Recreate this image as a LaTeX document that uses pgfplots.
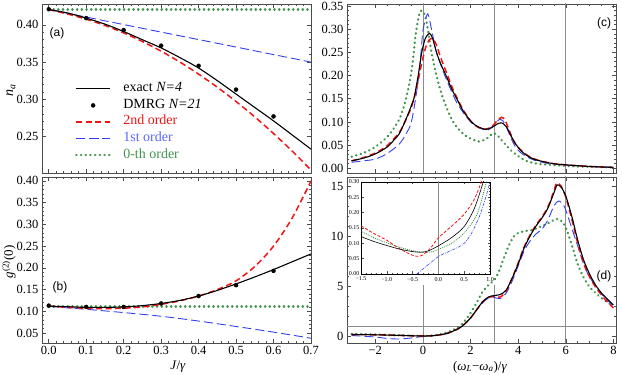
\documentclass[border=0pt]{standalone}
\usepackage{pgfplots}
\pgfplotsset{compat=1.18}
\usepackage{fontspec}
\setmainfont{Liberation Serif}
\newfontfamily\lsans{Liberation Sans}
\definecolor{cRed}{rgb}{0.95,0.08,0.08}
\definecolor{cBlue}{rgb}{0.2,0.25,0.95}
\definecolor{cBlueTxt}{rgb}{0.35,0.4,1}
\definecolor{cGreen}{rgb}{0.25,0.58,0.3}
\definecolor{cFrame}{gray}{0.3}
\definecolor{cGrid}{gray}{0.55}
\pgfplotsset{
  mystyle/.style={scale only axis, enlargelimits=false, anchor=south west,
    axis line style={cFrame, line width=0.8pt},
    tick style={cFrame, line width=0.5pt}, tick align=inside,
    major tick length=4pt, minor tick length=2pt,
    xtick pos=both, ytick pos=both,
    tick label style={font=\fontsize{12.5}{13}\selectfont}, clip=true},
  exact/.style={black, line width=1.1pt, smooth},
  second/.style={cRed, line width=1.5pt, dash pattern=on 6pt off 3.5pt, smooth},
  first/.style={cBlue, line width=0.9pt, dash pattern=on 9pt off 4pt, smooth},
  zeroth/.style={cGreen, line width=2.3pt, dash pattern=on 0.4pt off 4.3pt, line cap=round, smooth},
  gridl/.style={cGrid, line width=0.6pt, forget plot},
  dmrg/.style={only marks, mark=*, mark size=2pt, black, mark options={solid}},
}
\begin{document}
\begin{tikzpicture}
\useasboundingbox (0pt,0pt) rectangle (622pt,375pt);

% ---------------- (a)
\begin{axis}[mystyle, at={(42pt,202pt)}, width=269pt, height=169pt,
  xmin=-0.018, xmax=0.7, ymin=0.201, ymax=0.428,
  xtick={0,0.1,0.2,0.3,0.4,0.5,0.6,0.7}, xticklabels={},
  ytick={0.25,0.30,0.35,0.40}, yticklabels={0.25,0.30,0.35,0.40},
  minor x tick num=4, minor y tick num=4,
  legend style={at={(0.122,0.535)}, anchor=north west, draw=none, fill=none,
    font=\fontsize{14}{14}\selectfont, row sep=4.6pt, inner sep=0pt,
    nodes={text height=9pt, text depth=3pt, inner sep=0pt, anchor=west},
    column sep=12pt},
  legend cell align=left,
  legend image code/.code={\draw[mark repeat=2,mark phase=2,#1] plot coordinates {(0pt,0pt) (17pt,0pt) (34pt,0pt)};},
]
\addlegendimage{exact}\addlegendentry{exact  \textit{N=4}}
\addlegendimage{dmrg}\addlegendentry{DMRG  \textit{N=21}}
\addlegendimage{second}\addlegendentry{\textcolor{cRed}{2nd order}}
\addlegendimage{first}\addlegendentry{\textcolor{cBlueTxt}{1st order}}
\addlegendimage{zeroth}\addlegendentry{\textcolor{cGreen}{0-th order}}
\addplot[zeroth, forget plot] coordinates {(0,0.4205) (0.7,0.4205)};
\addplot[first, forget plot] coordinates {(0,0.4205) (0.7,0.350)};
\addplot[second, forget plot] coordinates {
(0,0.4205) (0.05,0.4146) (0.1,0.4076) (0.15,0.3992) (0.2,0.3892) (0.25,0.3776)
(0.3,0.3646) (0.35,0.3500) (0.4,0.3338) (0.45,0.3162) (0.5,0.2970) (0.55,0.2763)
(0.6,0.2540) (0.65,0.2303) (0.7,0.2050)};
\addplot[exact, forget plot] coordinates {
(0,0.4205) (0.05,0.416) (0.1,0.409) (0.15,0.401) (0.2,0.391) (0.25,0.380)
(0.3,0.369) (0.35,0.356) (0.4,0.342) (0.45,0.325) (0.5,0.307) (0.55,0.289)
(0.6,0.271) (0.65,0.252) (0.7,0.233)};
\addplot[dmrg, forget plot] coordinates {
(0,0.421) (0.1,0.409) (0.2,0.393) (0.3,0.372) (0.4,0.345) (0.5,0.313) (0.6,0.277)};
\end{axis}

% ---------------- (b)
\begin{axis}[mystyle, at={(42pt,32pt)}, width=269pt, height=166pt,
  xmin=-0.018, xmax=0.7, ymin=0.027, ymax=0.409,
  xtick={0,0.1,0.2,0.3,0.4,0.5,0.6,0.7}, xticklabels={0.0,0.1,0.2,0.3,0.4,0.5,0.6,0.7},
  ytick={0.05,0.10,0.15,0.20,0.25,0.30,0.35,0.40},
  yticklabels={0.05,0.10,0.15,0.20,0.25,0.30,0.35,0.40},
  minor x tick num=4, minor y tick num=4,
]
\addplot[zeroth] coordinates {(0,0.111) (0.7,0.111)};
\addplot[first] coordinates {(0,0.111) (0.1,0.1045) (0.2,0.097) (0.3,0.0885) (0.4,0.0775) (0.5,0.065) (0.6,0.052) (0.7,0.038)};
\addplot[second] coordinates {
(0,0.112) (0.05,0.109) (0.1,0.107) (0.15,0.106) (0.2,0.107) (0.25,0.110)
(0.3,0.116) (0.35,0.124) (0.4,0.135) (0.45,0.150) (0.5,0.170) (0.55,0.203)
(0.6,0.250) (0.65,0.315) (0.7,0.400)};
\addplot[exact] coordinates {
(0,0.112) (0.05,0.1105) (0.1,0.109) (0.15,0.109) (0.2,0.110) (0.25,0.113)
(0.3,0.118) (0.35,0.125) (0.4,0.135) (0.45,0.148) (0.5,0.163) (0.55,0.179)
(0.6,0.196) (0.65,0.214) (0.7,0.232)};
\addplot[dmrg] coordinates {
(0,0.113) (0.1,0.110) (0.2,0.110) (0.3,0.118) (0.4,0.135) (0.5,0.160) (0.6,0.193)};
\end{axis}

% ---------------- (c)
\begin{axis}[mystyle, at={(347pt,202pt)}, width=269pt, height=169pt,
  xmin=-3.19, xmax=8.11, ymin=-0.0101, ymax=0.3543,
  xtick={-2,0,2,4,6,8}, xticklabels={},
  ytick={0,0.05,0.10,0.15,0.20,0.25,0.30,0.35},
  yticklabels={0.00,0.05,0.10,0.15,0.20,0.25,0.30,0.35},
  minor x tick num=3, minor y tick num=4,
]
\addplot[gridl] coordinates {(0,-0.1) (0,0.4)};
\addplot[gridl] coordinates {(3,-0.1) (3,0.4)};
\addplot[gridl] coordinates {(6,-0.1) (6,0.4)};
\addplot[zeroth] coordinates {
(-3,0.025) (-2.5,0.033) (-2,0.046) (-1.5,0.068) (-1.2,0.088) (-1,0.105) (-0.8,0.133)
(-0.6,0.175) (-0.45,0.220) (-0.3,0.290) (-0.15,0.333) (-0.05,0.340) (0.05,0.334) (0.15,0.316)
(0.36,0.250) (0.57,0.200) (0.85,0.150) (1.27,0.100) (1.7,0.074) (2.0,0.064)
(2.35,0.058) (2.65,0.063) (2.95,0.0755) (3.15,0.070) (3.4,0.055) (3.8,0.034)
(4.3,0.017) (4.8,0.010) (5.5,0.007) (6.5,0.004) (8,0.002)};
\addplot[first] coordinates {
(-3,0.013) (-2.5,0.016) (-2,0.020) (-1.5,0.032) (-1,0.052) (-0.7,0.075) (-0.5,0.097)
(-0.34,0.140) (-0.17,0.200) (-0.08,0.250) (0.01,0.300) (0.2,0.333) (0.36,0.300)
(0.57,0.250) (0.92,0.200) (1.34,0.150) (1.6,0.127) (2.0,0.100) (2.3,0.089)
(2.7,0.082) (3.0,0.095) (3.25,0.106) (3.45,0.095) (3.7,0.065) (3.9,0.045)
(4.2,0.030) (4.6,0.019) (5,0.013) (5.5,0.009) (6,0.007) (7,0.004) (8,0.002)};
\addplot[second] coordinates {
(-3,0.016) (-2.5,0.023) (-2,0.033) (-1.5,0.049) (-1,0.077) (-0.76,0.100) (-0.5,0.130)
(-0.3,0.165) (-0.1,0.215) (0.1,0.258) (0.25,0.276) (0.4,0.280) (0.55,0.268)
(0.75,0.238) (1.0,0.205) (1.2,0.178) (1.42,0.153) (1.7,0.125) (2.04,0.100)
(2.3,0.089) (2.6,0.084) (2.9,0.090) (3.1,0.102) (3.3,0.110) (3.45,0.104)
(3.6,0.085) (3.8,0.060) (4.0,0.045) (4.3,0.031) (4.6,0.022) (5,0.015) (5.5,0.010)
(6,0.0075) (7,0.004) (8,0.002)};
\addplot[exact] coordinates {
(-3,0.016) (-2.5,0.022) (-2,0.031) (-1.5,0.046) (-1.2,0.062) (-1,0.074) (-0.76,0.100)
(-0.5,0.133) (-0.38,0.150) (-0.2,0.200) (-0.05,0.250) (0.1,0.280) (0.27,0.291)
(0.4,0.281) (0.57,0.250) (0.75,0.225) (0.97,0.200) (1.2,0.172) (1.42,0.150)
(1.7,0.123) (2.04,0.100) (2.3,0.090) (2.65,0.084) (2.9,0.088) (3.1,0.095)
(3.3,0.098) (3.5,0.090) (3.7,0.070) (3.9,0.052) (4.2,0.034) (4.6,0.021) (5,0.015)
(5.5,0.010) (6,0.0075) (7,0.004) (8,0.002)};
\end{axis}

% ---------------- (d)
\begin{axis}[mystyle, at={(347pt,32pt)}, width=269pt, height=166pt,
  xmin=-3.19, xmax=8.11, ymin=-0.7, ymax=15.9,
  xtick={-2,0,2,4,6,8}, xticklabels={−2,0,2,4,6,8},
  ytick={0,5,10,15}, yticklabels={0,5,10,15},
  minor x tick num=3, minor y tick num=4,
]
\addplot[gridl] coordinates {(0,-1) (0,5.1)};
\addplot[gridl] coordinates {(3,-1) (3,5.1)};
\addplot[gridl] coordinates {(6,-1) (6,17)};
\addplot[gridl] coordinates {(-4,1) (9,1)};
\addplot[zeroth] coordinates {
(-3,0.2) (-2,0.15) (-1,0.08) (0,0.0) (0.5,0.08) (1,0.35) (1.5,0.9) (1.75,1.5)
(2,2.3) (2.25,3.3) (2.5,4.4) (2.8,5.2) (3,5.6) (3.2,6.5) (3.4,7.8) (3.6,9.0)
(3.8,9.9) (4,10.3) (4.3,10.5) (4.6,10.6) (4.9,10.9) (5.2,11.2) (5.5,11.6)
(5.69,11.7) (5.9,11.3) (6.04,10.6) (6.2,9.5) (6.32,8.6) (6.5,7.2) (6.74,5.9)
(7,4.9) (7.3,4.2) (7.6,3.6) (8,3.0)};
\addplot[first] coordinates {
(-3,0.05) (-2,-0.1) (-1.5,-0.25) (-1,-0.3) (-0.5,-0.2) (0,-0.05) (0.5,0.05)
(1,0.25) (1.5,0.75) (1.75,1.2) (2,1.8) (2.25,2.6) (2.5,3.3) (2.75,3.8) (3,3.85)
(3.25,3.75) (3.5,4.3) (3.75,5.5) (4,7.0) (4.25,8.5) (4.5,9.5) (4.75,10.2)
(5,10.7) (5.25,11.6) (5.5,13.0) (5.7,13.5) (5.9,13.1) (6,12.6) (6.25,10.8)
(6.5,9.0) (6.75,7.2) (7,5.9) (7.5,4.2) (8,3.0)};
\addplot[second] coordinates {
(-3,0.15) (-2,0.12) (-1,0.06) (0,0.0) (0.5,0.05) (1,0.25) (1.5,0.75) (1.75,1.2)
(2,1.8) (2.25,2.6) (2.5,3.4) (2.75,3.85) (3,3.95) (3.25,3.9) (3.5,4.5) (3.75,5.8)
(4,7.3) (4.25,8.9) (4.5,10.1) (4.75,11.1) (5,11.9) (5.25,12.9) (5.5,14.5)
(5.62,15.3) (5.8,15.0) (6,13.9) (6.25,11.7) (6.5,9.3) (6.75,7.3) (7,5.9)
(7.25,4.9) (7.5,4.1) (7.75,3.4) (8,2.8)};
\addplot[exact] coordinates {
(-3,0.15) (-2,0.12) (-1,0.06) (0,0.0) (0.5,0.05) (1,0.25) (1.5,0.75) (1.75,1.2)
(2,1.8) (2.25,2.6) (2.5,3.4) (2.75,3.9) (3,4.05) (3.25,4.15) (3.5,4.6) (3.75,5.8)
(4,7.2) (4.25,8.8) (4.5,10.0) (4.75,11.0) (5,11.8) (5.25,12.8) (5.5,14.3)
(5.64,15.1) (5.8,14.9) (6,14.0) (6.25,12.0) (6.5,9.6) (6.75,7.6) (7,6.2)
(7.25,5.1) (7.5,4.3) (7.75,3.7) (8,3.1)};
\end{axis}

% ---------------- inset
\begin{axis}[mystyle, at={(361pt,101pt)}, width=129pt, height=92pt,
  axis background/.style={fill=white},
  xmin=-1.5, xmax=1, ymin=0, ymax=0.3,
  xtick={-1.5,-1,-0.5,0,0.5,1}, xticklabels={−1.5,−1.0,−0.5,0.0,0.5,1.0},
  ytick={0,0.05,0.10,0.15,0.20,0.25,0.30},
  yticklabels={0.00,0.05,0.10,0.15,0.20,0.25,0.30},
  tick label style={font=\fontsize{6}{6.5}\selectfont},
  xticklabel style={yshift=0.5pt}, yticklabel style={xshift=1.8pt},
  major tick length=2.5pt, minor tick length=1.2pt,
  minor x tick num=4, minor y tick num=4,
  axis line style={black, line width=0.7pt},
]
\addplot[gridl] coordinates {(0,-1) (0,1)};
\addplot[cGreen, line width=1pt, dash pattern=on 0.3pt off 1.7pt, line cap=round, smooth] coordinates {
(-1.5,0.140) (-1.25,0.118) (-1,0.102) (-0.75,0.087) (-0.5,0.076) (-0.3,0.071)
(-0.1,0.073) (0,0.080) (0.25,0.100) (0.5,0.134) (0.75,0.195) (0.93,0.30) (0.97,0.33)};
\addplot[cBlue, line width=0.6pt, dash pattern=on 3pt off 1.2pt on 0.8pt off 1.2pt, smooth] coordinates {
(-0.42,0) (-0.2,0.03) (0,0.057) (0.2,0.073) (0.32,0.082) (0.5,0.100) (0.65,0.135)
(0.8,0.19) (0.9,0.24) (1.0,0.30)};
\addplot[cRed, line width=0.8pt, dash pattern=on 3pt off 1.8pt, smooth] coordinates {
(-1.5,0.157) (-1.25,0.132) (-1,0.110) (-0.75,0.082) (-0.5,0.061) (-0.4,0.058)
(-0.3,0.062) (-0.15,0.085) (0,0.118) (0.25,0.155) (0.5,0.195) (0.7,0.245) (0.83,0.30) (0.87,0.32)};
\addplot[black, line width=0.6pt, smooth] coordinates {
(-1.5,0.122) (-1.25,0.106) (-1,0.093) (-0.75,0.081) (-0.5,0.073) (-0.35,0.071)
(-0.2,0.075) (0,0.092) (0.25,0.118) (0.5,0.155) (0.7,0.215) (0.87,0.30) (0.9,0.32)};
\end{axis}

% ---------------- labels
\node[rotate=90, font=\fontsize{14}{14}\selectfont] at (11pt,285pt) {\textit{n}\textsubscript{\textit{a}}};
\node[rotate=90, font=\fontsize{13}{13}\selectfont] at (9pt,113pt) {\textit{g}\textsuperscript{(2)}(0)};
\node[font=\fontsize{13}{13}\selectfont] at (178pt,8pt) {\textit{J}/\textit{γ}};
\node[font=\fontsize{13}{13}\selectfont] at (480pt,8pt) {(\textit{ω}\textsubscript{\textit{L}}−\textit{ω}\textsubscript{\textit{a}})/\textit{γ}};
\node[font=\lsans\fontsize{12}{12}\selectfont] at (57pt,342pt) {(a)};
\node[font=\lsans\fontsize{12}{12}\selectfont] at (60pt,88pt) {(b)};
\node[font=\lsans\fontsize{12}{12}\selectfont] at (604pt,352pt) {(c)};
\node[font=\lsans\fontsize{12}{12}\selectfont] at (604pt,99pt) {(d)};
\end{tikzpicture}
\end{document}
